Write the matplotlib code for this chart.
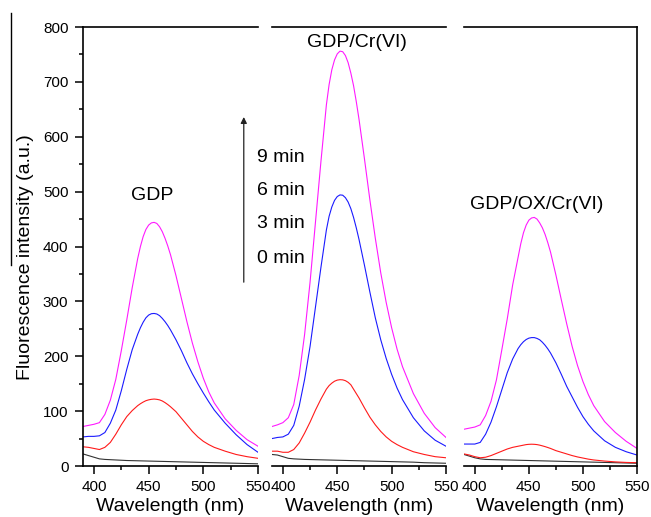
import matplotlib.pyplot as plt
from matplotlib.lines import Line2D

plt.rcParams['font.family'] = ['Liberation Sans', 'DejaVu Sans']

# wavelength grid (nm) for the coloured spectra, finer around the peak
wl = [390, 395, 400, 405, 410, 415, 420, 425, 430, 435,
      440, 442.5, 445, 447.5, 450, 452.5, 455, 457.5, 460, 462.5, 465, 467.5, 470,
      475, 480, 485, 490, 495, 500, 505, 510,
      520, 530, 540, 550]
# coarse grid for the flat 0 min spectra
wl_bg = [390, 395, 400, 405, 410, 420, 430, 440, 450, 460,
         470, 480, 490, 500, 510, 520, 530, 540, 550]

# GDP
gdp_0 = [22, 19, 16, 13, 12, 11, 10, 9.5, 9, 8.5, 8, 7.5, 7, 6.5, 6, 5.5, 5, 4.5, 4]
gdp_3 = [35, 34, 32, 30, 34, 43, 58, 75, 90, 101,
         110, 113.5, 116.5, 119, 120.5, 121.5, 122, 121.5, 120.5, 118.5, 115.5, 112, 108,
         99, 87, 75, 63, 53, 45, 39, 34,
         27, 21, 17, 14]
gdp_6 = [53, 54, 54, 55, 61, 78, 102, 137, 176, 212,
         240, 252, 262, 270, 275, 277.5, 278, 277, 274, 269, 263, 256, 248,
         230, 210, 188, 168, 150, 133, 117, 102,
         78, 57, 39, 25]
gdp_9 = [72, 74, 76, 79, 94, 120, 158, 210, 266, 325,
         378, 400, 418, 431, 439, 443, 444, 442, 436, 427, 415, 401, 385,
         347, 305, 263, 224, 190, 160, 135, 115,
         86, 65, 48, 36]

# GDP/Cr(VI)
cr_0 = [21, 20, 17, 14, 13, 12, 11.5, 11, 10.5, 10, 9.5, 9, 8.5, 8, 7.5, 7, 6, 5.5, 5]
cr_3 = [27, 27, 25, 25, 30, 42, 60, 80, 102, 122,
        140, 146.5, 151, 154.5, 156.5, 157.3, 157, 155.5, 152.5, 148, 140, 132, 124,
        106, 89, 75, 63, 53, 45, 39, 34,
        26, 21, 17, 15]
cr_6 = [50, 52, 53, 58, 74, 109, 158, 218, 290, 362,
        430, 455, 472, 484, 491, 494, 493.5, 489, 481, 469, 453, 434, 413,
        366, 317, 270, 230, 196, 167, 142, 121,
        88, 64, 47, 36]
cr_9 = [72, 75, 79, 88, 112, 165, 240, 335, 445, 555,
        658, 695, 722, 740, 751, 756, 755, 748, 735, 716, 693, 664, 632,
        560, 485, 415, 352, 298, 252, 213, 181,
        132, 96, 70, 52]

# GDP/OX/Cr(VI)
ox_0 = [21, 18, 15, 13, 12, 11.5, 11, 10.5, 10, 9.5, 9, 8.5, 8, 7.5, 7, 6.5, 6, 5.5, 5]
ox_3 = [22, 20, 17, 15, 16, 19, 23, 27, 31, 34,
        36, 37, 38, 39, 39.5, 39.7, 39.5, 39, 38, 36.7, 35.3, 33.7, 32,
        28, 25, 22, 19, 16.5, 14.5, 12.5, 11,
        9, 7.5, 6.5, 6]
ox_6 = [40, 40, 40, 43, 58, 80, 108, 139, 170, 195,
        214, 221, 226.5, 230.5, 233, 234, 234, 232.5, 230, 225.5, 220, 213.5, 206,
        188, 167, 145, 126, 107, 90, 76, 64,
        46, 34, 26, 20]
ox_9 = [67, 69, 71, 75, 92, 118, 157, 212, 268, 330,
        380, 405, 425, 439, 448, 452, 453, 450, 443, 434, 422, 407, 390,
        348, 303, 259, 218, 183, 154, 130, 110,
        81, 61, 45, 32]

colors = ['#333333', '#ff1a1a', '#1a1aff', '#ff1aff']
times = ['0 min', '3 min', '6 min', '9 min']

fig = plt.figure(figsize=(6.51, 5.17), dpi=100)
bot = 1 - 466 / 517
h = 439 / 517
ax1 = fig.add_axes([83 / 651, bot, 175 / 651, h])
ax2 = fig.add_axes([272 / 651, bot, 174 / 651, h])
ax3 = fig.add_axes([464 / 651, bot, 173 / 651, h])
ax1.set_zorder(3)

panels = [(ax1, [gdp_0, gdp_3, gdp_6, gdp_9]),
          (ax2, [cr_0, cr_3, cr_6, cr_9]),
          (ax3, [ox_0, ox_3, ox_6, ox_9])]

for ax, series in panels:
    ax.plot(wl_bg, series[0], color=colors[0], lw=0.8)
    for ys, c in zip(series[1:], colors[1:]):
        ax.plot(wl, ys, color=c, lw=0.8)
    ax.set_xlim(390, 550)
    ax.set_ylim(0, 800)
    ax.set_xticks([400, 450, 500, 550])
    ax.set_xticks([425, 475, 525], minor=True)
    ax.set_yticks(range(0, 801, 100))
    ax.set_yticks(range(50, 800, 100), minor=True)
    ax.tick_params(which='major', direction='out', length=6, width=1.1, labelsize=11)
    ax.tick_params(axis='x', which='major', pad=4)
    ax.tick_params(which='minor', direction='out', length=3.2, width=1.1)
    ax.tick_params(top=False, right=False, which='both')
    for s in ax.spines.values():
        s.set_linewidth(1.2)
    ax.spines['left'].set_visible(False)
    ax.spines['right'].set_visible(False)
    ax.tick_params(axis='y', which='both', left=False, labelleft=False)
    ax.set_xlabel('Wavelength (nm)', fontsize=14, labelpad=3)

ax1.spines['left'].set_visible(True)
ax1.tick_params(axis='y', which='both', left=True, labelleft=True, pad=4.5)
ax3.spines['right'].set_visible(True)
ax1.set_ylabel('Fluorescence intensity (a.u.)', fontsize=14)
ax1.yaxis.set_label_coords(-0.28, 0.475)

# sample labels
ax1.text(453, 485, 'GDP', fontsize=14, ha='center', va='baseline')
ax2.text(468, 764, 'GDP/Cr(VI)', fontsize=14, ha='center', va='baseline')
ax3.text(457, 468, 'GDP/OX/Cr(VI)', fontsize=14, ha='center', va='baseline')

# time arrow
ax1.annotate('', xy=(537, 636), xytext=(537, 335), annotation_clip=False,
             arrowprops=dict(arrowstyle='-|>', color='#222222', lw=0.9,
                             mutation_scale=9, shrinkA=0, shrinkB=0))
for t, yb in zip(times, [370, 433, 494, 554]):
    ax1.text(549, yb, t, fontsize=14, ha='left', va='baseline', clip_on=False)

# stray frame line at the left edge of the figure
fig.add_artist(Line2D([11 / 651, 11 / 651], [1 - 13 / 517, 1 - 265 / 517],
                      color='k', lw=1.0))

fig.savefig('out.png', dpi=100)
